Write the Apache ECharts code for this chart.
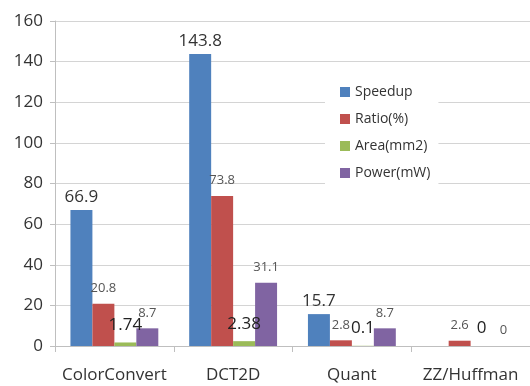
<!DOCTYPE html>
<html><head><meta charset="utf-8">
<script src="https://cdn.jsdelivr.net/npm/echarts@6/dist/echarts.min.js"></script>
<style>html,body{margin:0;padding:0;background:#fff}#c{width:530px;height:386px}</style>
</head><body><div id="c"></div>
<script>
var categories = ['ColorConvert', 'DCT2D', 'Quant', 'ZZ/Huffman'];
var speedup = [66.9, 143.8, 15.7, null];
var ratio = [20.8, 73.8, 2.8, 2.6];
var area = [1.74, 2.38, 0.1, 0];
var power = [8.7, 31.1, 8.7, 0];
var seriesNames = ['Speedup', 'Ratio(%)', 'Area(mm2)', 'Power(mW)'];
var yTicks = [0, 20, 40, 60, 80, 100, 120, 140, 160];

var FONT = '"Open Sans", "Noto Sans", sans-serif';
var colors = ['#4F81BD', '#C0504D', '#9BBB59', '#8064A2'];
var dataSets = [speedup, ratio, area, power];
var labelStyles = [
  {fontSize: 17, color: '#333', distance: 4},
  {fontSize: 13, color: '#555', distance: 9},
  {fontSize: 17, color: '#222', distance: 9},
  {fontSize: 13, color: '#555', distance: 9}
];
var series = dataSets.map(function (d, i) {
  return {
    name: seriesNames[i], type: 'bar', data: d,
    barGap: '0%', barCategoryGap: '26%',
    itemStyle: {color: colors[i]},
    label: {show: true, position: 'top', fontFamily: FONT,
      fontSize: labelStyles[i].fontSize, color: labelStyles[i].color,
      distance: labelStyles[i].distance}
  };
});
var chart = echarts.init(document.getElementById('c'));
chart.setOption({
  animation: false,
  backgroundColor: '#fff',
  color: colors,
  textStyle: {fontFamily: FONT},
  grid: {left: 55, right: 0, top: 21, bottom: 40},
  legend: {
    orient: 'vertical', left: 325, top: 75,
    itemWidth: 10, itemHeight: 10, itemGap: 13,
    backgroundColor: '#fff',
    padding: [10, 8, 10, 15],
    icon: 'rect',
    textStyle: {fontSize: 14, color: '#333', fontFamily: FONT},
    data: seriesNames
  },
  xAxis: {
    type: 'category', data: categories,
    axisLine: {lineStyle: {color: '#bfbfbf', width: 1}},
    axisTick: {show: true, length: 6, lineStyle: {color: '#bfbfbf'}},
    axisLabel: {interval: 0, fontSize: 17, color: '#333', margin: 21, fontFamily: FONT}
  },
  yAxis: {
    type: 'value', min: 0, max: 160, interval: 20,
    axisLine: {show: true, lineStyle: {color: '#bfbfbf', width: 1}},
    axisTick: {show: true, length: 5, lineStyle: {color: '#bfbfbf'}},
    splitLine: {lineStyle: {color: '#d4d4d4', width: 1}},
    axisLabel: {fontSize: 17, color: '#333', margin: 12, fontFamily: FONT,
      formatter: function (v) { return yTicks.indexOf(v) >= 0 ? String(v) : ''; }}
  },
  series: series
});
</script></body></html>
